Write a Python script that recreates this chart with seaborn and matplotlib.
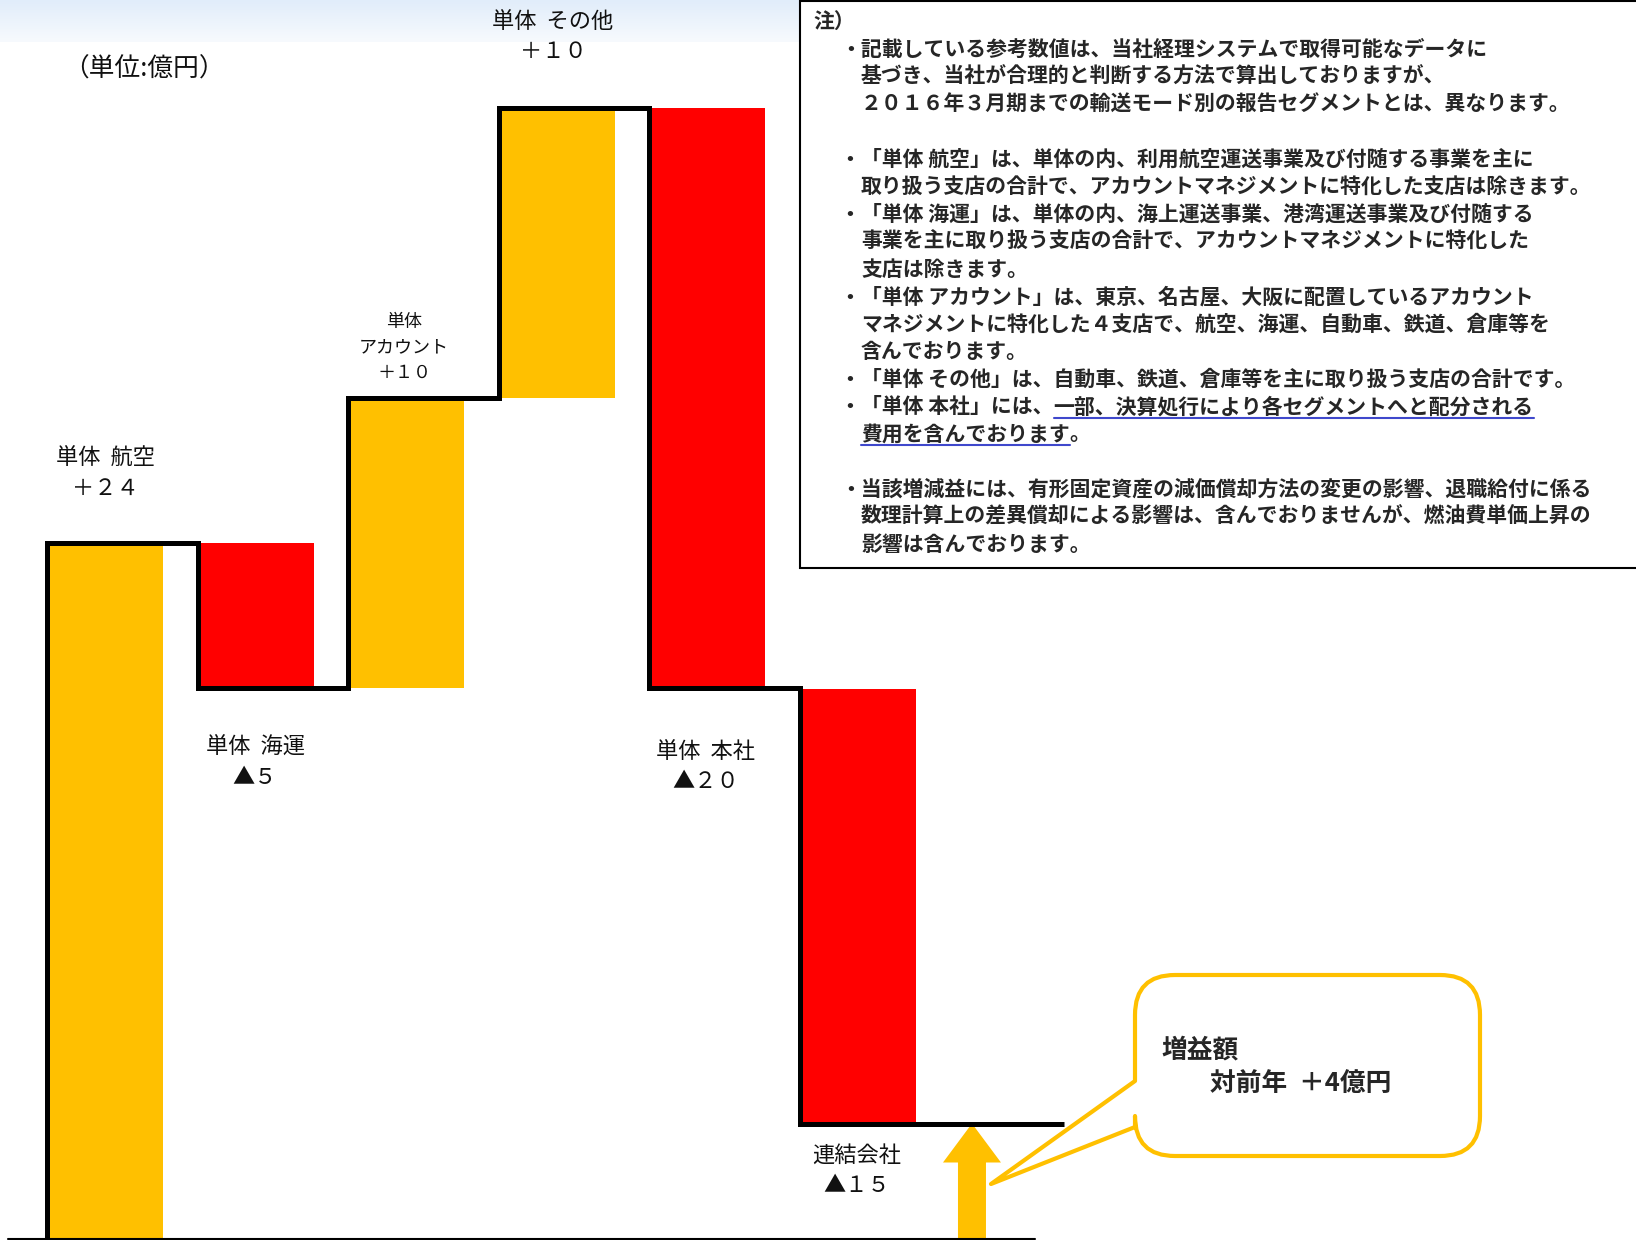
import numpy as np
import matplotlib
matplotlib.use("Agg")
import matplotlib.pyplot as plt
import seaborn as sns
from matplotlib.patches import FancyArrow, PathPatch, Rectangle
from matplotlib.path import Path

# ---------------- data ----------------
categories = ["単体  航空", "単体  海運", "単体\nアカウント", "単体  その他", "単体  本社", "連結会社"]
changes = [24, -5, 10, 10, -20, -15]          # 億円
unit_label = "（単位:億円）"
callout_title = "増益額"
callout_value = "対前年  ＋4億円"
note_head = "注）"
note_lines = [
    "・記載している参考数値は、当社経理システムで取得可能なデータに",
    "基づき、当社が合理的と判断する方法で算出しておりますが、",
    "２０１６年３月期までの輸送モード別の報告セグメントとは、異なります。",
    "",
    "・「単体 航空」は、単体の内、利用航空運送事業及び付随する事業を主に",
    "取り扱う支店の合計で、アカウントマネジメントに特化した支店は除きます。",
    "・「単体 海運」は、単体の内、海上運送事業、港湾運送事業及び付随する",
    "事業を主に取り扱う支店の合計で、アカウントマネジメントに特化した",
    "支店は除きます。",
    "・「単体 アカウント」は、東京、名古屋、大阪に配置しているアカウント",
    "マネジメントに特化した４支店で、航空、海運、自動車、鉄道、倉庫等を",
    "含んでおります。",
    "・「単体 その他」は、自動車、鉄道、倉庫等を主に取り扱う支店の合計です。",
    "・「単体 本社」には、一部、決算処行により各セグメントへと配分される",
    "費用を含んでおります。",
    "",
    "・当該増減益には、有形固定資産の減価償却方法の変更の影響、退職給付に係る",
    "数理計算上の差異償却による影響は、含んでおりませんが、燃油費単価上昇の",
    "影響は含んでおります。",
]
underlined = {13: "一部、決算処行により各セグメントへと配分される", 14: "費用を含んでおります"}

# ---------------- style ----------------
sns.set_theme(style="white")
plt.rcParams["font.family"] = ["Noto Sans CJK JP", "DejaVu Sans"]
YELLOW = "#FFC000"
RED = "#FF0000"

W, H = 1636, 1240
fig = plt.figure(figsize=(W / 100, H / 100), dpi=100)

# pixel <-> data mapping for the waterfall axes
X0, XS = 47.0, 150.5
Y0, YS = 1239.5, 29.0
def fx(px): return (px - X0) / XS
def fy(py): return (Y0 - py) / YS

# background gradient band
bg = fig.add_axes([0, 0, 1, 1], zorder=0)
bg.set_xlim(0, W); bg.set_ylim(H, 0); bg.set_axis_off()
top = np.array([225, 237, 250]) / 255.0
bot = np.array([247, 250, 254]) / 255.0
t = np.linspace(0, 1, 64)[:, None]
grad = top[None, :] * (1 - t) + bot[None, :] * t
bg.imshow(grad[:, None, :], extent=[0, 800, 42, 0], aspect="auto", zorder=0)

# ---------------- waterfall ----------------
ax = fig.add_axes([0, 0, 1, 1], zorder=1)
ax.patch.set_alpha(0)
ax.set_xlim(fx(0), fx(W)); ax.set_ylim(fy(H), fy(0))
ax.set_axis_off()

vals = np.array(changes, dtype=float)
ends = np.cumsum(vals)
starts = ends - vals
pos = np.arange(len(vals), dtype=float)
colors = [YELLOW if v > 0 else RED for v in vals]
ax.bar(pos, np.abs(vals), bottom=np.minimum(starts, ends), width=0.771,
       align="edge", color=colors, linewidth=0, zorder=2)

# connector step line
end_x = len(vals) + 0.76
sx, sy = [pos[0]], [starts[0] - 0.05]
for i in range(len(vals)):
    nxt = pos[i + 1] if i + 1 < len(vals) else end_x
    sx += [pos[i], nxt]
    sy += [ends[i], ends[i]]
ax.plot(sx, sy, color="black", lw=3.6, solid_joinstyle="miter",
        solid_capstyle="butt", zorder=3)

# base line
ax.plot([fx(8), fx(1035)], [fy(1238.5)] * 2, color="black", lw=1.5, zorder=3)

# total arrow
total = ends[-1]
arrow_x = len(vals) + 0.146
ax.add_patch(FancyArrow(arrow_x, 0.05, 0, total - 0.05, width=28 / XS,
                        head_width=58 / XS, head_length=39 / YS,
                        length_includes_head=True, color=YELLOW, lw=0, zorder=2))

# ---------------- overlay (texts, note box, callout) ----------------
ov = fig.add_axes([0, 0, 1, 1], zorder=3)
ov.patch.set_alpha(0)
ov.set_xlim(0, W); ov.set_ylim(H, 0); ov.set_axis_off()

def fw(n):
    return str(int(abs(n))).translate(str.maketrans("0123456789", "０１２３４５６７８９"))

value_labels = [("＋" if v > 0 else "▲") + fw(v) for v in changes]
label_layout = [  # cx, first-line y, line gap, fontsize
    (105, 458, 30, 16),
    (255, 747, 30, 16),
    (404, 322, 25.5, 13),
    (553, 21, 31, 16),
    (706, 752, 30, 16),
    (857, 1155, 31, 16),
]
for cat, val, (cx, y, gap, fs) in zip(categories, value_labels, label_layout):
    lines = cat.split("\n") + [val]
    for j, ln in enumerate(lines):
        ov.text(cx, y + j * gap, ln, ha="center", va="center", fontsize=fs,
                color="#111111")

ov.text(144, 70, unit_label, ha="center", va="center", fontsize=18.5, color="#111111")

# note box
ov.add_patch(Rectangle((800, 1), 900, 567, facecolor="white", edgecolor="black",
                       lw=1.5, zorder=1))
NFS = 15
ov.text(813, 21.5, note_head, ha="left", va="center", fontsize=NFS,
        fontweight="bold", zorder=2)
renderer = fig.canvas.get_renderer()
inv = ov.transData.inverted()
for k, ln in enumerate(note_lines):
    if not ln:
        continue
    y = 49 + 27.5 * k
    x = 840 if ln.startswith("・") else 861
    if k in underlined:
        part = underlined[k]
        i0 = ln.index(part)
        pieces = [(ln[:i0], False), (part, True), (ln[i0 + len(part):], False)]
        cur = x
        for txt, ul in pieces:
            if not txt:
                continue
            tt = ov.text(cur, y, txt, ha="left", va="center", fontsize=NFS,
                         fontweight="bold", zorder=2)
            bb = tt.get_window_extent(renderer=renderer)
            (xa, _), (xb, _) = inv.transform([(bb.x0, bb.y0), (bb.x1, bb.y1)])
            if ul:
                ov.plot([xa, xb], [y + 11, y + 11], color="#3F48CC", lw=1.5, zorder=2)
            cur = xb
    else:
        ov.text(x, y, ln, ha="left", va="center", fontsize=NFS,
                fontweight="bold", zorder=2)

# callout
x0c, y0c, x1c, y1c, r = 1135, 975, 1480, 1156, 40
p_top, p_bot, tip = 1081, 1127, (991, 1184)
verts = [(x0c, p_top), (x0c, y0c + r), (x0c, y0c), (x0c + r, y0c),
         (x1c - r, y0c), (x1c, y0c), (x1c, y0c + r),
         (x1c, y1c - r), (x1c, y1c), (x1c - r, y1c),
         (x0c + r, y1c), (x0c, y1c), (x0c, y1c - r),
         (x0c, p_bot), tip, (x0c, p_top), (x0c, p_top)]
codes = [Path.MOVETO, Path.LINETO, Path.CURVE3, Path.CURVE3,
         Path.LINETO, Path.CURVE3, Path.CURVE3,
         Path.LINETO, Path.CURVE3, Path.CURVE3,
         Path.LINETO, Path.CURVE3, Path.CURVE3,
         Path.LINETO, Path.LINETO, Path.LINETO, Path.CLOSEPOLY]
ov.add_patch(PathPatch(Path(verts, codes), facecolor="white", edgecolor=YELLOW,
                       lw=3, joinstyle="round", zorder=1))
ov.text(1161, 1050, callout_title, ha="left", va="center", fontsize=18.5,
        fontweight="bold", zorder=2)
ov.text(1210, 1083, callout_value, ha="left", va="center", fontsize=18.5,
        fontweight="bold", zorder=2)

fig.savefig("out.png", dpi=100)
